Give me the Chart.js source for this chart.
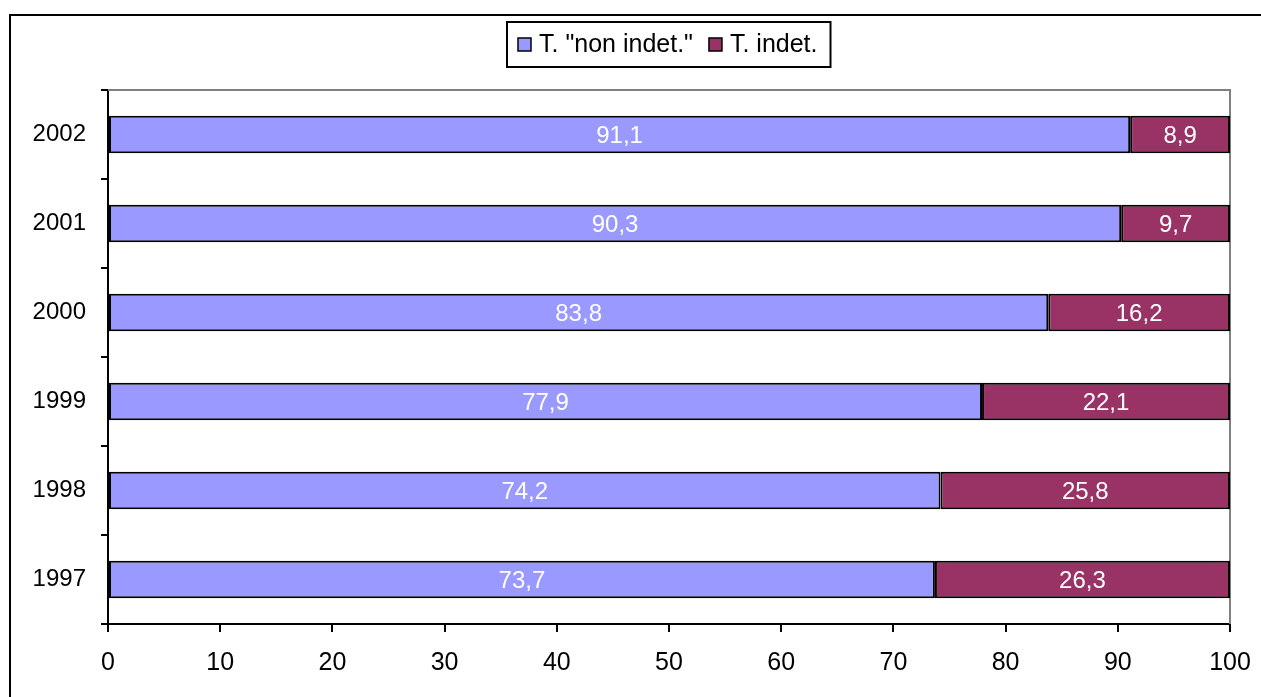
<!DOCTYPE html>
<html>
<head>
<meta charset="utf-8">
<title>T. "non indet." / T. indet. 1997-2002</title>
<script src="https://cdn.jsdelivr.net/npm/chart.js@4.4.1/dist/chart.umd.min.js"></script>
<style>
  html, body { margin: 0; padding: 0; background: #ffffff; }
  canvas { display: block; }
</style>
</head>
<body>
<canvas id="chart" width="1261" height="697"></canvas>
<script>
// Years shown on the category axis (bottom to top)
const years = ['1997', '1998', '1999', '2000', '2001', '2002'];
// Shares in percent for each year
const nonIndet = [73.7, 74.2, 77.9, 83.8, 90.3, 91.1];
const indet = [26.3, 25.8, 22.1, 16.2, 9.7, 8.9];
// Series names
const seriesNames = ['T. "non indet."', 'T. indet.'];
// Value axis range and step
const xMin = 0, xMax = 100, xStep = 10;

const FONT = 'Liberation Sans, Arial, sans-serif';

const fmt = v => v.toFixed(1).replace('.', ',');

// White page, outer frame and the grey top/right edges of the plot area
const framePlugin = {
  id: 'frame',
  beforeDraw(chart) {
    const ctx = chart.ctx;
    ctx.save();
    ctx.fillStyle = '#ffffff';
    ctx.fillRect(0, 0, chart.width, chart.height);
    ctx.restore();
  },
  beforeDatasetsDraw(chart) {
    const { ctx, chartArea: a } = chart;
    ctx.save();
    ctx.strokeStyle = '#808080';
    ctx.lineWidth = 2;
    ctx.beginPath();
    ctx.moveTo(a.left, a.top);
    ctx.lineTo(a.right, a.top);
    ctx.lineTo(a.right, a.bottom);
    ctx.stroke();
    ctx.restore();
  },
  afterDraw(chart) {
    const ctx = chart.ctx;
    ctx.save();
    ctx.strokeStyle = '#000000';
    ctx.lineWidth = 2;
    ctx.strokeRect(10, 15, chart.width + 20, chart.height + 20);
    ctx.restore();
  }
};

// Value labels centred inside each bar segment
const valueLabels = {
  id: 'valueLabels',
  afterDatasetsDraw(chart) {
    const ctx = chart.ctx;
    ctx.save();
    ctx.font = '24px ' + FONT;
    ctx.fillStyle = '#ffffff';
    ctx.textAlign = 'center';
    ctx.textBaseline = 'middle';
    chart.data.datasets.forEach((ds, i) => {
      const meta = chart.getDatasetMeta(i);
      meta.data.forEach((bar, j) => {
        const p = bar.getProps(['x', 'y', 'base'], true);
        ctx.fillText(fmt(ds.data[j]), (p.x + p.base) / 2, p.y + 2);
      });
    });
    ctx.restore();
  }
};

// Boxed legend above the plot
const boxedLegend = {
  id: 'boxedLegend',
  afterDraw(chart) {
    const ctx = chart.ctx;
    const a = chart.chartArea;
    ctx.save();
    ctx.font = '25px ' + FONT;
    const sq = 13, gapSq = 8, itemGap = 16, padL = 11, padR = 13;
    const items = chart.data.datasets.map(ds => ({
      label: ds.label, color: ds.backgroundColor, w: ctx.measureText(ds.label).width
    }));
    let total = padL + padR;
    items.forEach((it, k) => { total += sq + gapSq + it.w + (k ? itemGap : 0); });
    const boxTop = 22, boxH = 45;
    const boxLeft = Math.round((a.left + a.right) / 2 - total / 2);
    ctx.fillStyle = '#ffffff';
    ctx.fillRect(boxLeft, boxTop, total, boxH);
    ctx.strokeStyle = '#000000';
    ctx.lineWidth = 2;
    ctx.strokeRect(boxLeft, boxTop, total, boxH);
    const cy = boxTop + boxH / 2;
    let x = boxLeft + padL;
    ctx.textBaseline = 'middle';
    ctx.textAlign = 'left';
    items.forEach((it, k) => {
      if (k) x += itemGap;
      ctx.fillStyle = it.color;
      ctx.fillRect(x, cy - sq / 2, sq, sq);
      ctx.lineWidth = 1.5;
      ctx.strokeRect(x, cy - sq / 2, sq, sq);
      x += sq + gapSq;
      ctx.fillStyle = '#000000';
      ctx.fillText(it.label, x, cy + 1);
      x += it.w;
    });
    ctx.restore();
  }
};

new Chart(document.getElementById('chart'), {
  type: 'bar',
  data: {
    labels: years,
    datasets: [
      {
        label: seriesNames[0],
        data: nonIndet,
        backgroundColor: '#9999FF',
        borderColor: '#000000',
        borderWidth: 2,
        borderSkipped: false
      },
      {
        label: seriesNames[1],
        data: indet,
        backgroundColor: '#993366',
        borderColor: '#000000',
        borderWidth: 2,
        borderSkipped: false
      }
    ]
  },
  options: {
    indexAxis: 'y',
    responsive: false,
    animation: false,
    devicePixelRatio: 1,
    layout: { padding: { top: 90, left: 0, right: 31, bottom: 0 } },
    datasets: { bar: { categoryPercentage: 1, barPercentage: 0.42 } },
    plugins: {
      legend: { display: false },
      tooltip: { enabled: false },
      title: { display: false }
    },
    scales: {
      x: {
        stacked: true,
        min: xMin,
        max: xMax,
        afterFit(scale) {
          scale.height = 73;
          scale.paddingLeft = 0;
          scale.paddingRight = 0;
        },
        ticks: {
          stepSize: xStep,
          color: '#000000',
          font: { family: FONT, size: 25 },
          padding: 16,
          maxRotation: 0
        },
        grid: {
          drawOnChartArea: false,
          drawTicks: true,
          tickLength: 8,
          color: '#000000',
          lineWidth: 2
        },
        border: { color: '#000000', width: 2 }
      },
      y: {
        stacked: true,
        reverse: true,
        afterFit(scale) { scale.width = 108; },
        ticks: {
          color: '#000000',
          font: { family: FONT, size: 24 },
          padding: 15
        },
        grid: {
          offset: true,
          drawOnChartArea: false,
          drawTicks: true,
          tickLength: 7,
          color: '#000000',
          lineWidth: 2
        },
        border: { color: '#000000', width: 2 }
      }
    }
  },
  plugins: [framePlugin, valueLabels, boxedLegend]
});
</script>
</body>
</html>
